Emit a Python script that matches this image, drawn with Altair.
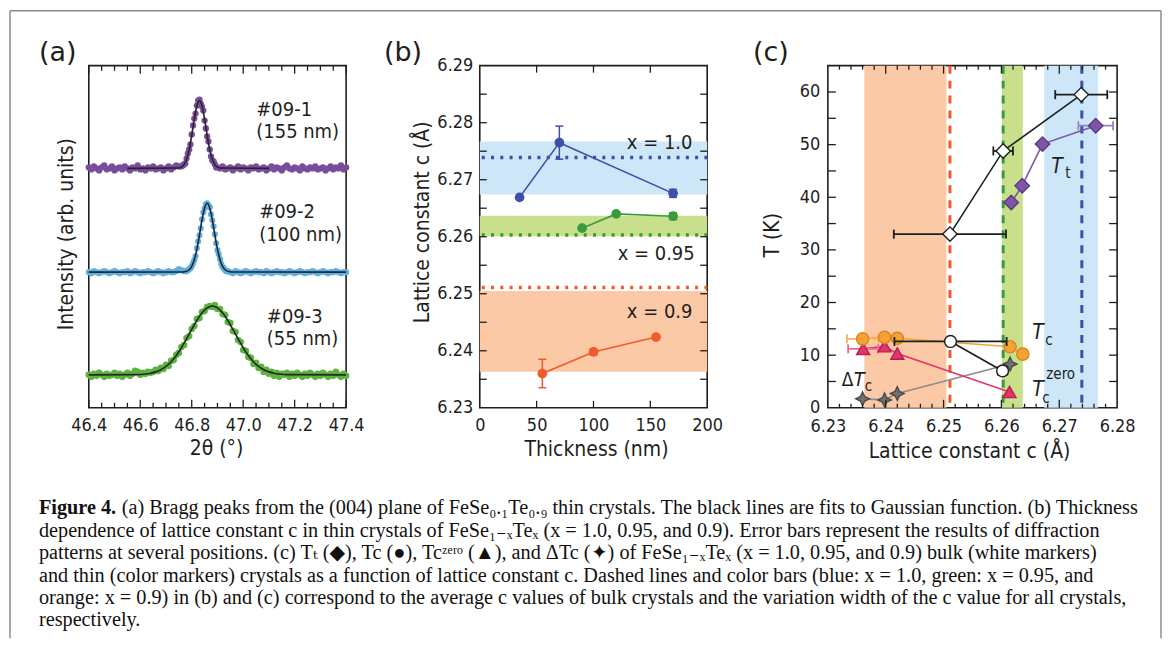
import altair as alt
import pandas as pd

SANS = "DejaVu Sans Condensed, DejaVu Sans, sans-serif"
SERIF = "Liberation Serif, Times New Roman, DejaVu Serif, serif"
INK = "#1e1e1e"

# ---------------- panel (a): Bragg peaks ----------------
theta_start, theta_step, theta_n = 46.40, 0.01, 101
purple_int = [241, 239, 242, 240, 238, 241, 243, 239, 240, 242,
              238, 240, 241, 239, 242, 240, 238, 241, 240, 243,
              239, 240, 238, 241, 240, 242, 239, 240, 241, 238,
              240, 242, 239, 241, 243, 242, 242, 244, 250, 259,
              274, 290, 303, 309, 302, 288, 272, 259, 248, 244,
              241, 240, 242, 239, 240, 241, 238, 240, 242, 239,
              241, 240, 238, 241, 240, 242, 239, 240, 241, 238,
              240, 242, 239, 241, 240, 238, 241, 243, 240, 239,
              241, 240, 238, 242, 240, 239, 241, 240, 242, 239,
              240, 241, 238, 240, 242, 239, 241, 240, 243, 239,
              241]
blue_int = [136, 135, 137, 136, 135, 136, 137, 136, 135, 136,
            137, 136, 135, 136, 136, 137, 135, 136, 137, 136,
            135, 136, 136, 137, 136, 135, 136, 137, 136, 135,
            136, 137, 136, 136, 137, 139, 138, 137, 137, 139,
            142, 148, 160, 173, 189, 200, 205, 201, 188, 174,
            158, 149, 141, 138, 137, 136, 135, 137, 136, 135,
            136, 137, 136, 135, 136, 137, 136, 136, 135, 137,
            136, 135, 136, 137, 136, 136, 135, 136, 137, 136,
            135, 136, 137, 136, 135, 136, 136, 137, 136, 135,
            136, 137, 136, 135, 136, 136, 137, 136, 135, 136,
            136]
green_int = [33, 31, 34, 32, 35, 33, 31, 34, 32, 33,
             35, 32, 34, 31, 33, 35, 32, 34, 37, 36,
             33, 35, 34, 36, 35, 36, 38, 37, 40, 39,
             43, 42, 47, 48, 53, 55, 61, 63, 70, 72,
             79, 82, 89, 90, 96, 97, 101, 102, 101, 103,
             99, 99, 94, 93, 86, 85, 77, 76, 68, 66,
             58, 57, 51, 50, 44, 45, 40, 41, 36, 38,
             34, 36, 32, 35, 31, 34, 33, 35, 31, 34,
             32, 35, 33, 31, 34, 32, 35, 33, 31, 34,
             32, 35, 33, 31, 34, 32, 36, 33, 31, 34,
             32]
purple_peak_theta = [46.765, 46.775, 46.785, 46.795, 46.805, 46.815, 46.825,
                     46.835, 46.845, 46.855, 46.865, 46.875, 46.885, 46.895]
purple_peak_int = [243, 245, 255, 264, 283, 295, 308, 305, 298, 280, 267, 252, 247, 241]
blue_peak_theta = [46.785, 46.795, 46.805, 46.815, 46.825, 46.835, 46.845, 46.855,
                   46.865, 46.875, 46.885, 46.895, 46.905, 46.915, 46.925, 46.935]
blue_peak_int = [138, 140, 145, 152, 167, 180, 196, 204, 203, 194, 182, 165, 154, 144, 140, 137]

purple_fit_theta = [46.55, 46.75, 46.76, 46.77, 46.78, 46.79, 46.80, 46.81, 46.82, 46.83,
                    46.84, 46.85, 46.86, 46.87, 46.88, 46.89, 46.90, 46.91, 47.10]
purple_fit_int = [240, 240.4, 241.3, 243.8, 249.2, 258.9, 273.1, 289.4, 302.8, 308,
                  302.8, 289.4, 273.1, 258.9, 249.2, 243.8, 241.3, 240.4, 240]
blue_fit_theta = [46.40, 46.76, 46.77, 46.78, 46.79, 46.80, 46.81, 46.82, 46.83, 46.84, 46.85,
                  46.86, 46.87, 46.88, 46.89, 46.90, 46.91, 46.92, 46.93, 46.94, 46.95, 46.96, 47.40]
blue_fit_int = [136, 136.1, 136.3, 136.9, 138.4, 141.8, 148.4, 159.0, 173.2, 188.5, 200.4,
                205.0, 200.4, 188.5, 173.2, 159.0, 148.4, 141.8, 138.4, 136.9, 136.3, 136.1, 136]
green_fit_theta = [46.40, 46.58, 46.60, 46.62, 46.64, 46.66, 46.68, 46.70, 46.72, 46.74, 46.76,
                   46.78, 46.80, 46.82, 46.84, 46.86, 46.88, 46.90, 46.92, 46.94, 46.96, 46.98,
                   47.00, 47.02, 47.04, 47.06, 47.08, 47.10, 47.12, 47.14, 47.16, 47.18, 47.40]
green_fit_int = [33, 33.2, 33.4, 33.9, 34.7, 36.0, 38.2, 41.5, 46.2, 52.5, 60.2,
                 69.2, 78.6, 87.7, 95.2, 100.2, 102.0, 100.2, 95.2, 87.7, 78.6, 69.2,
                 60.2, 52.5, 46.2, 41.5, 38.2, 36.0, 34.7, 33.9, 33.4, 33.2, 33]
sample_names = ["#09-1", "#09-2", "#09-3"]
sample_thick = ["(155 nm)", "(100 nm)", "(55 nm)"]
sample_lab_theta = [47.051, 47.062, 47.092]
sample_lab_int1 = [299, 196, 91]
sample_lab_int2 = [276, 173, 69]
a_tick_labels = [46.4, 46.6, 46.8, 47.0, 47.2, 47.4]
a_minor = [46.45, 46.5, 46.55, 46.65, 46.7, 46.75, 46.85, 46.9, 46.95,
           47.05, 47.1, 47.15, 47.25, 47.3, 47.35]

# ---------------- panel (b): lattice constant vs thickness ----------------
thick_x10 = [35, 70, 170]
c_x10 = [6.2669, 6.2765, 6.2676]
err_x10 = [0, 0.0029, 0.0007]
thick_x095 = [90, 120, 170]
c_x095 = [6.2615, 6.2640, 6.2636]
err_x095 = [0.0004, 0, 0.0006]
thick_x09 = [55, 100, 155]
c_x09 = [6.2360, 6.2398, 6.2424]
err_x09 = [0.0025, 0.0005, 0]
group_names = ["x = 1.0", "x = 0.95", "x = 0.9"]
band_low = [6.2674, 6.2601, 6.2363]
band_high = [6.2767, 6.2637, 6.2505]
bulk_c = [6.2739, 6.2603, 6.2511]
group_lab_thick = [187, 189, 187]
group_lab_c = [6.2764, 6.2569, 6.2468]
b_x_labels = [0, 50, 100, 150, 200]
b_x_ticks = [50, 100, 150]
b_y_labels = [6.23, 6.24, 6.25, 6.26, 6.27, 6.28, 6.29]
b_y_ticks = [6.235, 6.24, 6.245, 6.25, 6.255, 6.26, 6.265, 6.27, 6.275, 6.28, 6.285]

# ---------------- panel (c): temperatures vs lattice constant ----------------
bulk_tt_c = [6.2511, 6.2603, 6.2738]
bulk_tt_T = [33.0, 48.8, 59.5]
bulk_tt_err = [0.0097, 0.0017, 0.0045]
bulk_tc_c = [6.2512, 6.2602]
bulk_tc_T = [12.6, 7.0]
bulk_tc_err = [0.0097, 0.0008]
thin_tt_c = [6.2617, 6.2636, 6.2671, 6.2763]
thin_tt_T = [39.0, 42.2, 50.1, 53.6]
thin_tt_err = [0, 0, 0, 0.0030]
thin_tc_c = [6.2360, 6.2398, 6.2420, 6.2615, 6.2637]
thin_tc_T = [13.1, 13.4, 13.2, 11.6, 10.2]
thin_tc_err = [0.0027, 0, 0, 0, 0]
tczero_c = [6.2361, 6.2398, 6.2420, 6.2614]
tczero_T = [11.2, 11.7, 10.3, 3.0]
tczero_err = [0.0026, 0, 0, 0]
dtc_c = [6.2360, 6.2398, 6.2420, 6.2615]
dtc_T = [1.7, 1.5, 2.7, 8.3]
c_x_labels = [6.23, 6.24, 6.25, 6.26, 6.27, 6.28]
c_x_major = [6.24, 6.25, 6.26, 6.27]
c_x_minor = [6.232, 6.234, 6.236, 6.238, 6.242, 6.244, 6.246, 6.248, 6.252, 6.254,
             6.256, 6.258, 6.262, 6.264, 6.266, 6.268, 6.272, 6.274, 6.276, 6.278]
c_y_labels = [0, 10, 20, 30, 40, 50, 60]
c_y_ticks = [5, 10, 15, 20, 25, 30, 35, 40, 45, 50, 55, 60]

# ---------------- caption ----------------
caption_bold = "Figure 4."
caption_lines = [
    "(a) Bragg peaks from the (004) plane of FeSe₀.₁Te₀.₉ thin crystals. The black lines are fits to Gaussian function. (b) Thickness",
    "dependence of lattice constant c in thin crystals of FeSe₁₋ₓTeₓ (x = 1.0, 0.95, and 0.9). Error bars represent the results of diffraction",
    "patterns at several positions. (c) Tₜ (◆), Tc (●), Tcᶻᵉʳᵒ (▲), and ΔTc (✦) of FeSe₁₋ₓTeₓ (x = 1.0, 0.95, and 0.9) bulk (white markers)",
    "and thin (color markers) crystals as a function of lattice constant c. Dashed lines and color bars (blue: x = 1.0, green: x = 0.95, and",
    "orange: x = 0.9) in (b) and (c) correspond to the average c values of bulk crystals and the variation width of the c value for all crystals,",
    "respectively.",
]

# colours
BLUE, GREEN, ORANGE = "#3d4fa6", "#3b9a3b", "#ef5b2b"
BAND = ["#cde6f8", "#c8df8c", "#fcc9a7"]
GROUP_COL = [BLUE, GREEN, ORANGE]
PURPLE_A, BLUE_A, GREEN_A = "#7a4c9c", "#5db0e4", "#5cb33e"
TT_COL, TC_COL, TZ_COL, DT_COL = "#7e56a5", "#f5a234", "#e4346b", "#707070"

W_A, W_B, W_C, H = 258, 228, 290, 343

AXL = dict(labelFont=SANS, labelFontSize=18, labelColor=INK, ticks=False, tickSize=0,
           domain=False, grid=False, title=None, labelOverlap=False, labelFlush=False,
           labelBound=False)


def one(text=""):
    return alt.Chart(pd.DataFrame({"t": [text]}))


def text_px(text, x, y, size, font=SANS, color=INK, align="left", angle=0,
            weight="normal", style="normal"):
    kw = dict(font=font, fontSize=size, color=color, align=align, baseline="middle",
              fontWeight=weight, fontStyle=style)
    if angle:
        kw["angle"] = angle
    return one(text).mark_text(**kw).encode(x=alt.value(x), y=alt.value(y), text="t:N")


def ticks_x(vals, X, length, h, width=1.3):
    base = alt.Chart(pd.DataFrame({"v": vals})).mark_rule(color=INK, strokeWidth=width)
    return [base.encode(x=X("v"), y=alt.value(h), y2=alt.value(h - length)),
            base.encode(x=X("v"), y=alt.value(0), y2=alt.value(length))]


def ticks_y(vals, Y, length, w, width=1.3):
    base = alt.Chart(pd.DataFrame({"v": vals})).mark_rule(color=INK, strokeWidth=width)
    return [base.encode(y=Y("v"), x=alt.value(0), x2=alt.value(length)),
            base.encode(y=Y("v"), x=alt.value(w), x2=alt.value(w - length))]


# ================= panel (a) =================
sxA = alt.Scale(domain=[46.4, 47.4], nice=False, zero=False)
syA = alt.Scale(domain=[0, H], nice=False, zero=False)
axA = alt.Axis(values=a_tick_labels, format=".1f", labelPadding=9, **AXL)


def XA(f):
    return alt.X(f, type="quantitative", scale=sxA, axis=axA)


def YA(f):
    return alt.Y(f, type="quantitative", scale=syA, axis=None)


theta_grid = [round(theta_start + theta_step * i, 3) for i in range(theta_n)]
layers_a = []
for ints, px, py, col, sz in [
    (purple_int, purple_peak_theta, purple_peak_int, PURPLE_A, 40),
    (blue_int, blue_peak_theta, blue_peak_int, BLUE_A, 38),
    (green_int, [], [], GREEN_A, 44),
]:
    df = pd.DataFrame({"th": theta_grid + px, "I": ints + py})
    layers_a.append(alt.Chart(df).mark_circle(size=sz, color=col, opacity=1)
                    .encode(x=XA("th"), y=YA("I")))
for fx, fy in [(purple_fit_theta, purple_fit_int), (blue_fit_theta, blue_fit_int),
               (green_fit_theta, green_fit_int)]:
    layers_a.append(alt.Chart(pd.DataFrame({"th": fx, "I": fy}))
                    .mark_line(color="#262626", strokeWidth=1.6, interpolate="monotone")
                    .encode(x=XA("th"), y=YA("I")))
layers_a += ticks_x(a_tick_labels, XA, 8, H)
layers_a += ticks_x(a_minor, XA, 5, H)
lab_a = pd.DataFrame({"th": sample_lab_theta, "i1": sample_lab_int1, "i2": sample_lab_int2,
                      "n": sample_names, "d": sample_thick})
layers_a.append(alt.Chart(lab_a).mark_text(font=SANS, fontSize=20, color=INK, align="left",
                                           baseline="middle")
                .encode(x=XA("th"), y=YA("i1"), text="n:N"))
layers_a.append(alt.Chart(lab_a).mark_text(font=SANS, fontSize=20, color=INK, align="left",
                                           baseline="middle")
                .encode(x=XA("th"), y=YA("i2"), text="d:N"))
layers_a.append(text_px("2θ (°)", 128, 384, 21, align="center"))
layers_a.append(text_px("Intensity (arb. units)", -22, 169, 21, align="center", angle=270))
layers_a.append(text_px("(a)", -50, -13, 27, font="DejaVu Sans, sans-serif"))
# caption (figure-level text, anchored to panel (a)'s origin)
CAP = 20.3
cap_y = [443.7, 466.2, 488.7, 511.2, 533.7, 556.2]
layers_a.append(text_px(caption_bold, -50, cap_y[0], CAP, font=SERIF, color="#111", weight="bold"))
for i, line in enumerate(caption_lines):
    x0 = 33 if i == 0 else -50
    layers_a.append(text_px(line, x0, cap_y[i], CAP, font=SERIF, color="#111"))
# figure frame
BORDER = "#8c8c8c"
layers_a.append(one().mark_rule(color=BORDER, strokeWidth=1.5)
                .encode(x=alt.value(-79), y=alt.value(-55), y2=alt.value(574)))
layers_a.append(one().mark_rule(color=BORDER, strokeWidth=1.5)
                .encode(x=alt.value(-79), x2=alt.value(1075), y=alt.value(-55)))
layers_a.append(one().mark_rule(color=BORDER, strokeWidth=1.5)
                .encode(x=alt.value(1075), y=alt.value(-55), y2=alt.value(574)))
panel_a = alt.layer(*layers_a).properties(width=W_A, height=H)

# ================= panel (b) =================
sxB = alt.Scale(domain=[0, 200], nice=False, zero=False)
syB = alt.Scale(domain=[6.23, 6.29], nice=False, zero=False)
axBx = alt.Axis(values=b_x_labels, format="d", labelPadding=9, **AXL)
axBy = alt.Axis(values=b_y_labels, format=".2f", labelPadding=7, **AXL)


def XB(f):
    return alt.X(f, type="quantitative", scale=sxB, axis=axBx)


def YB(f):
    return alt.Y(f, type="quantitative", scale=syB, axis=axBy)


layers_b = []
for i in range(3):
    layers_b.append(alt.Chart(pd.DataFrame({"lo": [band_low[i]], "hi": [band_high[i]]}))
                    .mark_rect(color=BAND[i], opacity=1)
                    .encode(x=alt.value(0), x2=alt.value(W_B), y=YB("lo"), y2=alt.Y2("hi")))
for i in range(3):
    layers_b.append(alt.Chart(pd.DataFrame({"c": [bulk_c[i]]}))
                    .mark_rule(color=GROUP_COL[i], strokeWidth=3.4, strokeDash=[3, 6.3])
                    .encode(x=alt.value(2), x2=alt.value(W_B), y=YB("c")))
for th, cv, er, col in [(thick_x10, c_x10, err_x10, BLUE), (thick_x095, c_x095, err_x095, GREEN),
                        (thick_x09, c_x09, err_x09, ORANGE)]:
    df = pd.DataFrame({"t": th, "c": cv, "e": er})
    df["lo"] = df["c"] - df["e"]
    df["hi"] = df["c"] + df["e"]
    dfe = df[df["e"] > 0]
    layers_b.append(alt.Chart(df).mark_line(color=col, strokeWidth=1.6)
                    .encode(x=XB("t"), y=YB("c")))
    layers_b.append(alt.Chart(dfe).mark_rule(color=col, strokeWidth=1.5)
                    .encode(x=XB("t"), y=YB("lo"), y2=alt.Y2("hi")))
    for end in ["lo", "hi"]:
        layers_b.append(alt.Chart(dfe).mark_tick(color=col, orient="horizontal", size=8,
                                                 thickness=1.5, opacity=1)
                        .encode(x=XB("t"), y=YB(end)))
    layers_b.append(alt.Chart(df).mark_circle(color=col, size=95, opacity=1)
                    .encode(x=XB("t"), y=YB("c")))
layers_b += ticks_x(b_x_ticks, XB, 7, H)
layers_b += ticks_y(b_y_ticks, YB, 7, W_B)
layers_b.append(alt.Chart(pd.DataFrame({"t": group_lab_thick, "c": group_lab_c, "n": group_names}))
                .mark_text(font=SANS, fontSize=20, color=INK, align="right", baseline="middle")
                .encode(x=XB("t"), y=YB("c"), text="n:N"))
layers_b.append(text_px("Thickness (nm)", 117, 385, 21, align="center"))
layers_b.append(text_px("Lattice constant c (Å)", -57, 157, 21, align="center", angle=270))
layers_b.append(text_px("(b)", -96, -13, 27, font="DejaVu Sans, sans-serif"))
panel_b = alt.layer(*layers_b).properties(width=W_B, height=H)

# ================= panel (c) =================
sxC = alt.Scale(domain=[6.23, 6.28], nice=False, zero=False)
syC = alt.Scale(domain=[0, 65], nice=False, zero=False)
axCx = alt.Axis(values=c_x_labels, format=".2f", labelPadding=10, **AXL)
axCy = alt.Axis(values=c_y_labels, format="d", labelPadding=8, **AXL)


def XC(f):
    return alt.X(f, type="quantitative", scale=sxC, axis=axCx)


def YC(f):
    return alt.Y(f, type="quantitative", scale=syC, axis=axCy)


layers_c = []
for i in range(3):
    layers_c.append(alt.Chart(pd.DataFrame({"lo": [band_low[i]], "hi": [band_high[i]]}))
                    .mark_rect(color=BAND[i], opacity=1)
                    .encode(x=XC("lo"), x2=alt.X2("hi"), y=alt.value(0), y2=alt.value(H)))
for i in range(3):
    layers_c.append(alt.Chart(pd.DataFrame({"c": [bulk_c[i]]}))
                    .mark_rule(color=GROUP_COL[i], strokeWidth=3, strokeDash=[8, 7])
                    .encode(x=XC("c"), y=alt.value(0), y2=alt.value(H)))

STAR = "M0,-1L0.32,-0.32L1,0L0.32,0.32L0,1L-0.32,0.32L-1,0L-0.32,-0.32Z"
series_c = [
    # c, T, err, line colour, err colour, shape, fill, stroke, size
    (dtc_c, dtc_T, [0] * 4, "#8d8d8d", "#8d8d8d", STAR, DT_COL, "#4a4a4a", 190),
    (tczero_c, tczero_T, tczero_err, TZ_COL, "#e86a90", "triangle-up", TZ_COL, "#b5204f", 170),
    (thin_tc_c, thin_tc_T, thin_tc_err, TC_COL, "#f7b25c", "circle", TC_COL, "#d88420", 150),
    (thin_tt_c, thin_tt_T, thin_tt_err, TT_COL, "#9d80bf", "diamond", TT_COL, "#5a3a80", 210),
    (bulk_tc_c, bulk_tc_T, bulk_tc_err, INK, INK, "circle", "white", INK, 140),
    (bulk_tt_c, bulk_tt_T, bulk_tt_err, INK, INK, "diamond", "white", INK, 210),
]
for cv, tv, ev, lcol, ecol, shape, fill, stroke, size in series_c:
    df = pd.DataFrame({"c": cv, "T": tv, "e": ev})
    df["lo"] = df["c"] - df["e"]
    df["hi"] = df["c"] + df["e"]
    dfe = df[df["e"] > 0]
    layers_c.append(alt.Chart(df).mark_line(color=lcol, strokeWidth=1.6)
                    .encode(x=XC("c"), y=YC("T")))
    if len(dfe):
        layers_c.append(alt.Chart(dfe).mark_rule(color=ecol, strokeWidth=1.8)
                        .encode(x=XC("lo"), x2=alt.X2("hi"), y=YC("T")))
        for end in ["lo", "hi"]:
            layers_c.append(alt.Chart(dfe).mark_tick(color=ecol, orient="vertical", size=9,
                                                     thickness=1.8, opacity=1)
                            .encode(x=XC(end), y=YC("T")))
    layers_c.append(alt.Chart(df).mark_point(shape=shape, filled=True, fill=fill, stroke=stroke,
                                             strokeWidth=1.4, size=size, opacity=1)
                    .encode(x=XC("c"), y=YC("T")))
layers_c += ticks_x(c_x_major, XC, 8, H)
layers_c += ticks_x(c_x_minor, XC, 4, H)
layers_c += ticks_y(c_y_ticks, YC, 8, W_C)
IT = dict(style="italic")
layers_c += [
    text_px("T", 224, 102, 21, **IT), text_px("t", 238, 108, 15),
    text_px("T", 205, 268, 21, **IT), text_px("c", 218, 275, 15),
    text_px("T", 205, 325, 21, **IT), text_px("c", 215, 333, 15),
    text_px("zero", 219, 309, 15),
    text_px("Δ", 14, 315, 19), text_px("T", 26, 315, 20, **IT), text_px("c", 37, 321, 15),
]
layers_c.append(text_px("Lattice constant c (Å)", 142, 387, 21, align="center"))
layers_c.append(text_px("T (K)", -55, 170, 21, align="center", angle=270))
layers_c.append(text_px("(c)", -75, -13, 27, font="DejaVu Sans, sans-serif"))
panel_c = alt.layer(*layers_c).properties(width=W_C, height=H)

right = alt.hconcat(panel_b, panel_c, spacing=121, bounds="flush")
chart = (alt.hconcat(panel_a, right, spacing=134, bounds="flush")
         .properties(padding=0, background="white")
         .configure_view(stroke=INK, strokeWidth=1.6, fill="white"))

chart.save("out.html", embed_options={"renderer": "svg", "actions": False})
